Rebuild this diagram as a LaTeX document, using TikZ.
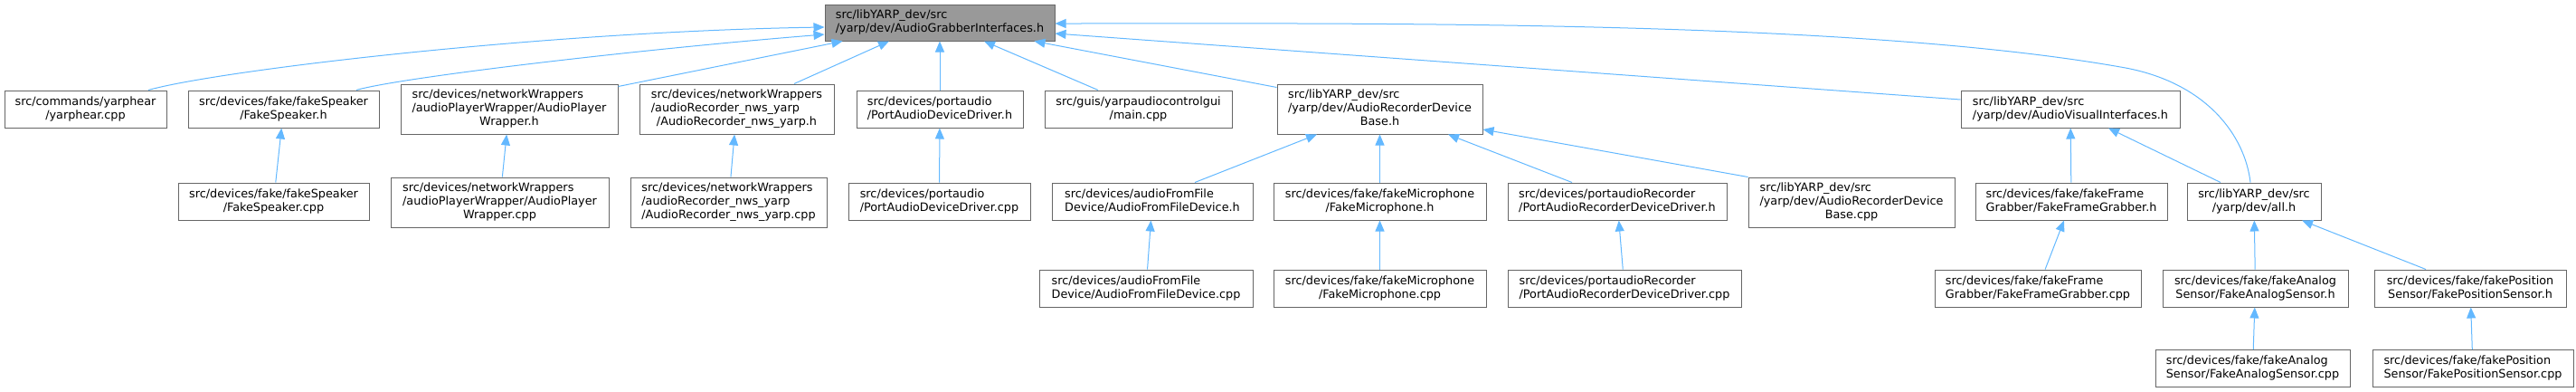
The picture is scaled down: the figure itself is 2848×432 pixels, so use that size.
\documentclass[tikz,border=0pt]{standalone}
\usepackage{fontspec}
\setmainfont{DejaVu Sans}
\usetikzlibrary{arrows.meta,calc}
\definecolor{edgeblue}{HTML}{63B8FF}
\definecolor{boxline}{HTML}{666666}
\definecolor{rootfill}{HTML}{999999}
\newcommand{\twolines}[2]{\begin{tabular}{@{}l@{}}#1\\\multicolumn{1}{@{}c@{}}{#2}\end{tabular}}
\newcommand{\threelines}[3]{\begin{tabular}{@{}l@{}}#1\\#2\\\multicolumn{1}{@{}c@{}}{#3}\end{tabular}}
\begin{document}
\begin{tikzpicture}[x=1pt, y=-1pt,
  file/.style={draw=boxline, line width=1pt, fill=white, inner sep=0pt, minimum width=#1, minimum height=41pt, font=\fontsize{12.8}{15}\selectfont},
  tfile/.style={file=#1, minimum height=55pt},
  root/.style={file=#1, fill=rootfill, minimum height=40pt},
  incl/.style={draw=edgeblue, line width=1pt, -{Triangle[length=12pt,width=10pt]}}]
\useasboundingbox (0,0) rectangle (2848,432);
\node[root=254pt] (fid0) at (1039,25){\twolines{src/libYARP\_dev/src}{/yarp/dev/AudioGrabberInterfaces.h}};
\node[file=179pt] (fid1) at (94.5,120.5){\twolines{src/commands/yarphear}{/yarphear.cpp}};
\draw[incl]($(fid1.north)+(69.5,0)$) .. controls (240,78) and (600,35) .. ($(fid0.west)+(0,5)$);
\node[file=211pt] (fid2) at (313.5,120.5){\twolines{src/devices/fake/fakeSpeaker}{/FakeSpeaker.h}};
\node[file=211pt] (fid9) at (302.5,222.5){\twolines{src/devices/fake/fakeSpeaker}{/FakeSpeaker.cpp}};
\draw[incl](fid9) -- (fid2);
\draw[incl]($(fid2.north)+(80.5,0)$) .. controls (440,86) and (700,55) .. ($(fid0.west)+(0,13)$);
\node[tfile=240pt] (fid3) at (563,120.5){\threelines{src/devices/networkWrappers}{/audioPlayerWrapper/AudioPlayer}{Wrapper.h}};
\node[tfile=241pt] (fid10) at (552.5,223.5){\threelines{src/devices/networkWrappers}{/audioPlayerWrapper/AudioPlayer}{Wrapper.cpp}};
\draw[incl](fid10) -- (fid3);
\draw[incl]($(fid3.north east)+(0,3)$) -- ($(fid0.south west)+(20,0)$);
\node[tfile=215pt] (fid4) at (814.5,120.5){\threelines{src/devices/networkWrappers}{/audioRecorder\_nws\_yarp}{/AudioRecorder\_nws\_yarp.h}};
\node[tfile=217pt] (fid11) at (805.5,223.5){\threelines{src/devices/networkWrappers}{/audioRecorder\_nws\_yarp}{/AudioRecorder\_nws\_yarp.cpp}};
\draw[incl](fid11) -- (fid4);
\draw[incl]($(fid4.north)+(63.5,0)$) -- ($(fid0.south)+(-56,0)$);
\node[file=184pt] (fid5) at (1039,120.5){\twolines{src/devices/portaudio}{/PortAudioDeviceDriver.h}};
\node[file=201pt] (fid12) at (1038.5,222.5){\twolines{src/devices/portaudio}{/PortAudioDeviceDriver.cpp}};
\draw[incl](fid12) -- (fid5);
\draw[incl](fid5.north) -- (fid0.south);
\node[file=207pt] (fid6) at (1258.5,120.5){\twolines{src/guis/yarpaudiocontrolgui}{/main.cpp}};
\draw[incl]($(fid6.north)+(-44.5,0)$) -- ($(fid0.south)+(49,0)$);
\node[tfile=227pt] (fid7) at (1525.5,120.5){\threelines{src/libYARP\_dev/src}{/yarp/dev/AudioRecorderDevice}{Base.h}};
\node[file=222pt] (fid13) at (1274,222.5){\twolines{src/devices/audioFromFile}{Device/AudioFromFileDevice.h}};
\node[file=236pt] (fid19) at (1267,318.5){\twolines{src/devices/audioFromFile}{Device/AudioFromFileDevice.cpp}};
\draw[incl](fid19) -- (fid13);
\draw[incl]($(fid13.north)+(47,0)$) -- ($(fid7.south)+(-69.5,0)$);
\node[file=235pt] (fid14) at (1525.5,222.5){\twolines{src/devices/fake/fakeMicrophone}{/FakeMicrophone.h}};
\node[file=235pt] (fid20) at (1525.5,318.5){\twolines{src/devices/fake/fakeMicrophone}{/FakeMicrophone.cpp}};
\draw[incl](fid20) -- (fid14);
\draw[incl](fid14) -- (fid7);
\node[file=242pt] (fid15) at (1788,222.5){\twolines{src/devices/portaudioRecorder}{/PortAudioRecorderDeviceDriver.h}};
\node[file=258pt] (fid21) at (1796,318.5){\twolines{src/devices/portaudioRecorder}{/PortAudioRecorderDeviceDriver.cpp}};
\draw[incl](fid21) -- (fid15);
\draw[incl]($(fid15.north)+(-50,0)$) -- ($(fid7.south)+(75.5,0)$);
\node[tfile=228pt] (fid16) at (2047,223.5){\threelines{src/libYARP\_dev/src}{/yarp/dev/AudioRecorderDevice}{Base.cpp}};
\draw[incl](fid16.north west) -- ($(fid7.east)+(0,22.5)$);
\draw[incl]($(fid7.north west)+(0,4)$) -- ($(fid0.south east)+(-23,0)$);
\node[file=242pt] (fid8) at (2289,120.5){\twolines{src/libYARP\_dev/src}{/yarp/dev/AudioVisualInterfaces.h}};
\node[file=212pt] (fid17) at (2290,222.5){\twolines{src/devices/fake/fakeFrame}{Grabber/FakeFrameGrabber.h}};
\node[file=228pt] (fid22) at (2253,318.5){\twolines{src/devices/fake/fakeFrame}{Grabber/FakeFrameGrabber.cpp}};
\draw[incl](fid22) -- (fid17);
\draw[incl](fid17) -- (fid8);
\node[file=148pt] (fid18) at (2492,222.5){\twolines{src/libYARP\_dev/src}{/yarp/dev/all.h}};
\node[file=205pt] (fid23) at (2493.5,318.5){\twolines{src/devices/fake/fakeAnalog}{Sensor/FakeAnalogSensor.h}};
\node[file=215pt] (fid25) at (2490.5,407){\twolines{src/devices/fake/fakeAnalog}{Sensor/FakeAnalogSensor.cpp}};
\draw[incl](fid25) -- (fid23);
\draw[incl](fid23) -- (fid18);
\node[file=212pt] (fid24) at (2731,318.5){\twolines{src/devices/fake/fakePosition}{Sensor/FakePositionSensor.h}};
\node[file=222pt] (fid26) at (2734,407){\twolines{src/devices/fake/fakePosition}{Sensor/FakePositionSensor.cpp}};
\draw[incl](fid26) -- (fid24);
\draw[incl]($(fid24.north)+(-49,0)$) -- ($(fid18.south)+(53,0)$);
\draw[incl]($(fid18.north)+(-37,0)$) -- ($(fid8.south)+(42,0)$);
\draw[incl]($(fid8.west)+(0,-10.5)$) -- ($(fid0.east)+(0,12)$);
\draw[incl]($(fid18.north)+(-4,0)$) .. controls (2482,150) and (2440,92) .. (2350,75) .. controls (2050,21) and (1500,26) .. ($(fid0.east)+(0,1)$);
\end{tikzpicture}
\end{document}
